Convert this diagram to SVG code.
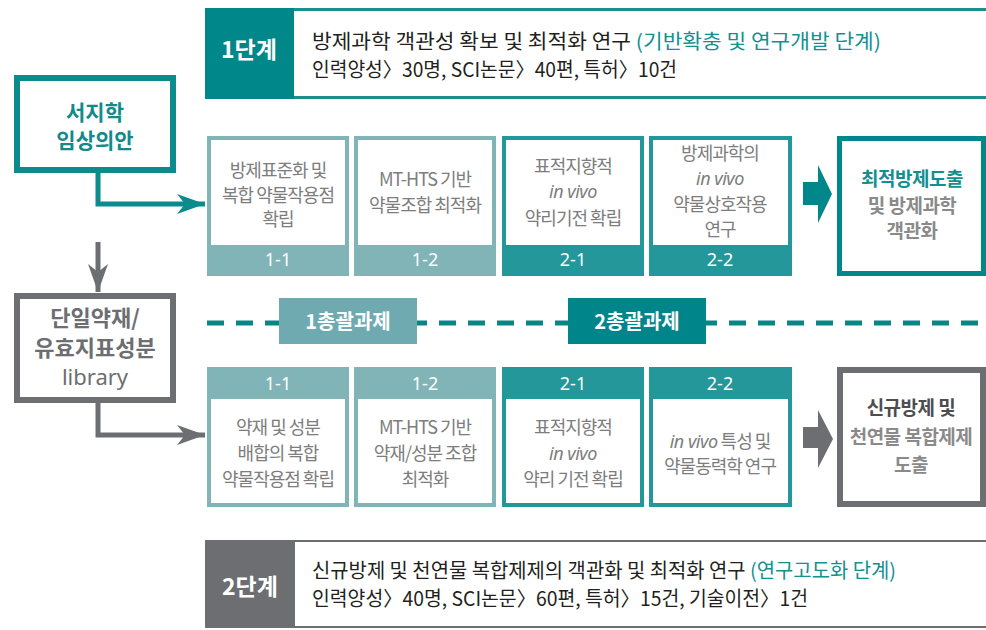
<svg xmlns="http://www.w3.org/2000/svg" width="986" height="630" viewBox="0 0 986 630">
<style>
text{font-family:"Noto Sans CJK KR","Noto Sans",sans-serif}
.bt{font-size:20px;fill:#231f20}
.tl{fill:#13908f}
.st{font-size:23px;font-weight:bold;fill:#ffffff;text-anchor:middle}
.bx{font-size:18px;fill:#7d7d7d;text-anchor:middle;letter-spacing:-1px}
.iv{font-family:"Noto Sans","Liberation Sans",sans-serif;font-style:italic;letter-spacing:-0.5px}
.num{font-family:"Noto Sans","Liberation Sans",sans-serif;font-size:18px;fill:#ffffff;text-anchor:middle}
.rs{font-size:19px;font-weight:bold;text-anchor:middle;letter-spacing:-0.5px}
.lf{font-size:22px;font-weight:bold;text-anchor:middle}
.tag{font-size:20px;font-weight:bold;fill:#ffffff;text-anchor:middle}
.c1{fill:#80b4b7}
.c2{fill:#23979a}
</style>
<defs>
<marker id="ahT" markerUnits="userSpaceOnUse" markerWidth="32" markerHeight="24" refX="30" refY="12" orient="auto">
<path d="M30,12 L2,2 L10,12 L2,22 Z" fill="#0b8b8b"/>
</marker>
<marker id="ahG" markerUnits="userSpaceOnUse" markerWidth="32" markerHeight="24" refX="30" refY="12" orient="auto">
<path d="M30,12 L2,2 L10,12 L2,22 Z" fill="#6d6e71"/>
</marker>
</defs>

<g id="stage1">
<rect x="206.5" y="9.5" width="790" height="88" fill="#ffffff" stroke="#1a8f8f" stroke-width="3"/>
<rect x="205" y="8" width="89" height="91" fill="#00878a"/>
<text class="st" x="249" y="58">1단계</text>
<text class="bt" x="312" y="49" textLength="569" lengthAdjust="spacingAndGlyphs">방제과학 객관성 확보 및 최적화 연구 <tspan class="tl">(기반확충 및 연구개발 단계)</tspan></text>
<text class="bt" x="312" y="77" textLength="365" lengthAdjust="spacingAndGlyphs">인력양성〉30명, SCI논문〉40편, 특허〉10건</text>
</g>

<g id="stage2">
<rect x="206" y="541" width="790" height="86" fill="#ffffff" stroke="#6d6e71" stroke-width="2"/>
<rect x="205" y="540" width="90" height="88" fill="#6d6e71"/>
<text class="st" x="250" y="595">2단계</text>
<text class="bt" x="312" y="578" textLength="584" lengthAdjust="spacingAndGlyphs">신규방제 및 천연물 복합제제의 객관화 및 최적화 연구 <tspan class="tl">(연구고도화 단계)</tspan></text>
<text class="bt" x="312" y="606" textLength="496" lengthAdjust="spacingAndGlyphs">인력양성〉40명, SCI논문〉60편, 특허〉15건, 기술이전〉1건</text>
</g>

<g id="source1">
<rect x="17" y="78" width="156" height="92" fill="#ffffff" stroke="#0b8b8b" stroke-width="6"/>
<text class="lf" x="95" y="120" fill="#138a8a" font-size="21" style="font-size:21px">서지학</text>
<text class="lf" x="95" y="148" fill="#138a8a" style="font-size:21px">임상의안</text>
</g>

<g id="source2">
<rect x="17" y="296" width="156" height="104" fill="#ffffff" stroke="#6d6e71" stroke-width="6"/>
<text class="lf" x="95" y="326" fill="#6d6e71">단일약재/</text>
<text class="lf" x="95" y="356" fill="#6d6e71">유효지표성분</text>
<text x="95" y="385" font-size="22" fill="#6d6e71" text-anchor="middle" style="font-family:'Noto Sans','Liberation Sans',sans-serif">library</text>
</g>

<g id="divider">
<line x1="207" y1="323" x2="986" y2="323" stroke="#0a8585" stroke-width="5" stroke-dasharray="17 12"/>
<g id="task1">
<rect x="279" y="298" width="138" height="46" fill="#6eaab0"/>
<text class="tag" x="348" y="329">1총괄과제</text>
</g>
<g id="task2">
<rect x="568" y="298" width="138" height="46" fill="#00868a"/>
<text class="tag" x="637" y="329">2총괄과제</text>
</g>
</g>

<!-- Row 1 -->
<g id="r1-11">
<rect class="c1" x="207" y="136" width="142" height="140"/>
<rect x="211" y="140" width="134" height="105" fill="#ffffff"/>
<text class="bx" x="278" y="177">방제표준화 및</text>
<text class="bx" x="278" y="202">복합 약물작용점</text>
<text class="bx" x="278" y="226">확립</text>
<text class="num" x="278" y="266">1-1</text>
</g>
<g id="r1-12">
<rect class="c1" x="354" y="136" width="142" height="140"/>
<rect x="358" y="140" width="134" height="105" fill="#ffffff"/>
<text class="bx" x="425" y="186">MT-HTS 기반</text>
<text class="bx" x="425" y="212">약물조합 최적화</text>
<text class="num" x="425" y="266">1-2</text>
</g>
<g id="r1-21">
<rect class="c2" x="502" y="136" width="142" height="140"/>
<rect x="506" y="140" width="134" height="105" fill="#ffffff"/>
<text class="bx" x="573" y="173">표적지향적</text>
<text class="bx iv" x="573" y="198">in vivo</text>
<text class="bx" x="573" y="225">약리기전 확립</text>
<text class="num" x="573" y="266">2-1</text>
</g>
<g id="r1-22">
<rect class="c2" x="649" y="136" width="143" height="140"/>
<rect x="653" y="140" width="135" height="105" fill="#ffffff"/>
<text class="bx" x="720" y="160">방제과학의</text>
<text class="bx iv" x="720" y="185">in vivo</text>
<text class="bx" x="720" y="211">약물상호작용</text>
<text class="bx" x="720" y="236">연구</text>
<text class="num" x="720" y="266">2-2</text>
</g>
<g id="r1-arrow">
<path d="M803,182 H818 V165 L832,194 L818,223 V205 H803 Z" fill="#00878a"/>
</g>
<g id="r1-result">
<rect x="839.5" y="138.5" width="144" height="135" fill="#ffffff" stroke="#00878a" stroke-width="5"/>
<text class="rs" x="912" y="186" fill="#11908f">최적방제도출</text>
<text class="rs" x="912" y="213" fill="#8a8a8a">및 방제과학</text>
<text class="rs" x="912" y="238" fill="#8a8a8a">객관화</text>
</g>

<!-- Row 2 -->
<g id="r2-11">
<rect class="c1" x="207" y="367" width="142" height="140"/>
<rect x="211" y="399" width="134" height="104" fill="#ffffff"/>
<text class="num" x="278" y="390">1-1</text>
<text class="bx" x="278" y="434">약재 및 성분</text>
<text class="bx" x="278" y="460">배합의 복합</text>
<text class="bx" x="278" y="486">약물작용점 확립</text>
</g>
<g id="r2-12">
<rect class="c1" x="354" y="367" width="142" height="140"/>
<rect x="358" y="399" width="134" height="104" fill="#ffffff"/>
<text class="num" x="425" y="390">1-2</text>
<text class="bx" x="425" y="434">MT-HTS 기반</text>
<text class="bx" x="425" y="460">약재/성분 조합</text>
<text class="bx" x="425" y="486">최적화</text>
</g>
<g id="r2-21">
<rect class="c2" x="502" y="367" width="142" height="140"/>
<rect x="506" y="399" width="134" height="104" fill="#ffffff"/>
<text class="num" x="573" y="390">2-1</text>
<text class="bx" x="573" y="434">표적지향적</text>
<text class="bx iv" x="573" y="460">in vivo</text>
<text class="bx" x="573" y="486">약리 기전 확립</text>
</g>
<g id="r2-22">
<rect class="c2" x="649" y="367" width="143" height="140"/>
<rect x="653" y="399" width="135" height="104" fill="#ffffff"/>
<text class="num" x="720" y="390">2-2</text>
<text class="bx" x="720" y="448"><tspan class="iv">in vivo</tspan> 특성 및</text>
<text class="bx" x="720" y="473">약물동력학 연구</text>
</g>
<g id="r2-arrow">
<path d="M803,427 H818 V410 L833,439 L818,468 V448 H803 Z" fill="#6d6e71"/>
</g>
<g id="r2-result">
<rect x="840" y="370" width="143" height="134" fill="#ffffff" stroke="#6d6e71" stroke-width="6"/>
<text class="rs" x="911" y="415" fill="#4d4d4f">신규방제 및</text>
<text class="rs" x="911" y="444" fill="#8a8a8a">천연물 복합제제</text>
<text class="rs" x="911" y="472" fill="#8a8a8a">도출</text>
</g>

<g id="connectors">
<path d="M98,170 V204 H205" fill="none" stroke="#0b8b8b" stroke-width="5" marker-end="url(#ahT)"/>
<path d="M98,242 V292" fill="none" stroke="#6d6e71" stroke-width="5" marker-end="url(#ahG)"/>
<path d="M98,400 V435 H205" fill="none" stroke="#6d6e71" stroke-width="5" marker-end="url(#ahG)"/>
</g>
</svg>
